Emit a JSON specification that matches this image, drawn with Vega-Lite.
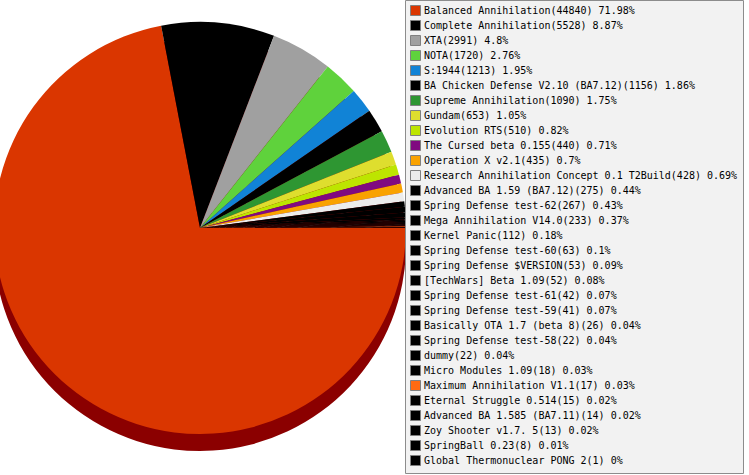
{
  "$schema": "https://vega.github.io/schema/vega-lite/v6.json",
  "description": "Games by player count, pie with legend.",
  "width": 400,
  "height": 456,
  "autosize": "none",
  "padding": {"left": 0, "top": 0, "right": 349, "bottom": 19},
  "background": "white",
  "data": {
    "values": [
      {"i": 1, "game": "Balanced Annihilation", "players": 44840, "label": "Balanced Annihilation(44840) 71.98%"},
      {"i": 2, "game": "Complete Annihilation", "players": 5528, "label": "Complete Annihilation(5528) 8.87%"},
      {"i": 3, "game": "XTA", "players": 2991, "label": "XTA(2991) 4.8%"},
      {"i": 4, "game": "NOTA", "players": 1720, "label": "NOTA(1720) 2.76%"},
      {"i": 5, "game": "S:1944", "players": 1213, "label": "S:1944(1213) 1.95%"},
      {"i": 6, "game": "BA Chicken Defense V2.10 (BA7.12)", "players": 1156, "label": "BA Chicken Defense V2.10 (BA7.12)(1156) 1.86%"},
      {"i": 7, "game": "Supreme Annihilation", "players": 1090, "label": "Supreme Annihilation(1090) 1.75%"},
      {"i": 8, "game": "Gundam", "players": 653, "label": "Gundam(653) 1.05%"},
      {"i": 9, "game": "Evolution RTS", "players": 510, "label": "Evolution RTS(510) 0.82%"},
      {"i": 10, "game": "The Cursed beta 0.155", "players": 440, "label": "The Cursed beta 0.155(440) 0.71%"},
      {"i": 11, "game": "Operation X v2.1", "players": 435, "label": "Operation X v2.1(435) 0.7%"},
      {"i": 12, "game": "Research Annihilation Concept 0.1 T2Build", "players": 428, "label": "Research Annihilation Concept 0.1 T2Build(428) 0.69%"},
      {"i": 13, "game": "Advanced BA 1.59 (BA7.12)", "players": 275, "label": "Advanced BA 1.59 (BA7.12)(275) 0.44%"},
      {"i": 14, "game": "Spring Defense test-62", "players": 267, "label": "Spring Defense test-62(267) 0.43%"},
      {"i": 15, "game": "Mega Annihilation V14.0", "players": 233, "label": "Mega Annihilation V14.0(233) 0.37%"},
      {"i": 16, "game": "Kernel Panic", "players": 112, "label": "Kernel Panic(112) 0.18%"},
      {"i": 17, "game": "Spring Defense test-60", "players": 63, "label": "Spring Defense test-60(63) 0.1%"},
      {"i": 18, "game": "Spring Defense $VERSION", "players": 53, "label": "Spring Defense $VERSION(53) 0.09%"},
      {"i": 19, "game": "[TechWars] Beta 1.09", "players": 52, "label": "[TechWars] Beta 1.09(52) 0.08%"},
      {"i": 20, "game": "Spring Defense test-61", "players": 42, "label": "Spring Defense test-61(42) 0.07%"},
      {"i": 21, "game": "Spring Defense test-59", "players": 41, "label": "Spring Defense test-59(41) 0.07%"},
      {"i": 22, "game": "Basically OTA 1.7 (beta 8)", "players": 26, "label": "Basically OTA 1.7 (beta 8)(26) 0.04%"},
      {"i": 23, "game": "Spring Defense test-58", "players": 22, "label": "Spring Defense test-58(22) 0.04%"},
      {"i": 24, "game": "dummy", "players": 22, "label": "dummy(22) 0.04%"},
      {"i": 25, "game": "Micro Modules 1.09", "players": 18, "label": "Micro Modules 1.09(18) 0.03%"},
      {"i": 26, "game": "Maximum Annihilation V1.1", "players": 17, "label": "Maximum Annihilation V1.1(17) 0.03%"},
      {"i": 27, "game": "Eternal Struggle 0.514", "players": 15, "label": "Eternal Struggle 0.514(15) 0.02%"},
      {"i": 28, "game": "Advanced BA 1.585 (BA7.11)", "players": 14, "label": "Advanced BA 1.585 (BA7.11)(14) 0.02%"},
      {"i": 29, "game": "Zoy Shooter v1.7. 5", "players": 13, "label": "Zoy Shooter v1.7. 5(13) 0.02%"},
      {"i": 30, "game": "SpringBall 0.23", "players": 8, "label": "SpringBall 0.23(8) 0.01%"},
      {"i": 31, "game": "Global Thermonuclear PONG 2", "players": 1, "label": "Global Thermonuclear PONG 2(1) 0%"}
    ]
  },
  "encoding": {
    "theta": {
      "field": "players",
      "type": "quantitative",
      "stack": true,
      "scale": {"range": [1.5708, 7.854]}
    },
    "order": {"field": "i", "type": "quantitative"}
  },
  "layer": [
    {
      "mark": {"type": "arc", "outerRadius": 206, "yOffset": 17, "fill": "#8b0000", "stroke": null}
    },
    {
      "mark": {"type": "arc", "outerRadius": 206, "stroke": null},
      "encoding": {
        "color": {
          "field": "label",
          "type": "nominal",
          "scale": {
            "domain": [
              "Balanced Annihilation(44840) 71.98%",
              "Complete Annihilation(5528) 8.87%",
              "XTA(2991) 4.8%",
              "NOTA(1720) 2.76%",
              "S:1944(1213) 1.95%",
              "BA Chicken Defense V2.10 (BA7.12)(1156) 1.86%",
              "Supreme Annihilation(1090) 1.75%",
              "Gundam(653) 1.05%",
              "Evolution RTS(510) 0.82%",
              "The Cursed beta 0.155(440) 0.71%",
              "Operation X v2.1(435) 0.7%",
              "Research Annihilation Concept 0.1 T2Build(428) 0.69%",
              "Advanced BA 1.59 (BA7.12)(275) 0.44%",
              "Spring Defense test-62(267) 0.43%",
              "Mega Annihilation V14.0(233) 0.37%",
              "Kernel Panic(112) 0.18%",
              "Spring Defense test-60(63) 0.1%",
              "Spring Defense $VERSION(53) 0.09%",
              "[TechWars] Beta 1.09(52) 0.08%",
              "Spring Defense test-61(42) 0.07%",
              "Spring Defense test-59(41) 0.07%",
              "Basically OTA 1.7 (beta 8)(26) 0.04%",
              "Spring Defense test-58(22) 0.04%",
              "dummy(22) 0.04%",
              "Micro Modules 1.09(18) 0.03%",
              "Maximum Annihilation V1.1(17) 0.03%",
              "Eternal Struggle 0.514(15) 0.02%",
              "Advanced BA 1.585 (BA7.11)(14) 0.02%",
              "Zoy Shooter v1.7. 5(13) 0.02%",
              "SpringBall 0.23(8) 0.01%",
              "Global Thermonuclear PONG 2(1) 0%"
            ],
            "range": [
              "#da3600", "#000000", "#a0a0a0", "#5fd23c", "#1183d6",
              "#000000", "#2e9632", "#dede2e", "#bde500", "#800a80",
              "#f9a200", "#ececec", "#000000", "#000000", "#000000",
              "#000000", "#000000", "#000000", "#000000", "#000000",
              "#000000", "#000000", "#000000", "#000000", "#000000",
              "#ff6a12", "#000000", "#000000", "#000000", "#000000",
              "#000000"
            ]
          },
          "legend": {
            "title": null,
            "orient": "none",
            "legendX": 405,
            "legendY": 0,
            "padding": 5,
            "fillColor": "#f2f2f2",
            "strokeColor": "#8c8c8c",
            "symbolType": "square",
            "symbolSize": 100,
            "symbolLimit": 40,
            "symbolStrokeColor": "#808080",
            "symbolStrokeWidth": 1,
            "symbolOpacity": 1,
            "rowPadding": 0,
            "labelFont": "DejaVu Sans Mono",
            "labelFontSize": 10,
            "labelColor": "#000000",
            "labelOffset": 3,
            "labelLimit": 400
          }
        }
      }
    }
  ],
  "config": {
    "view": {"stroke": null}
  }
}
